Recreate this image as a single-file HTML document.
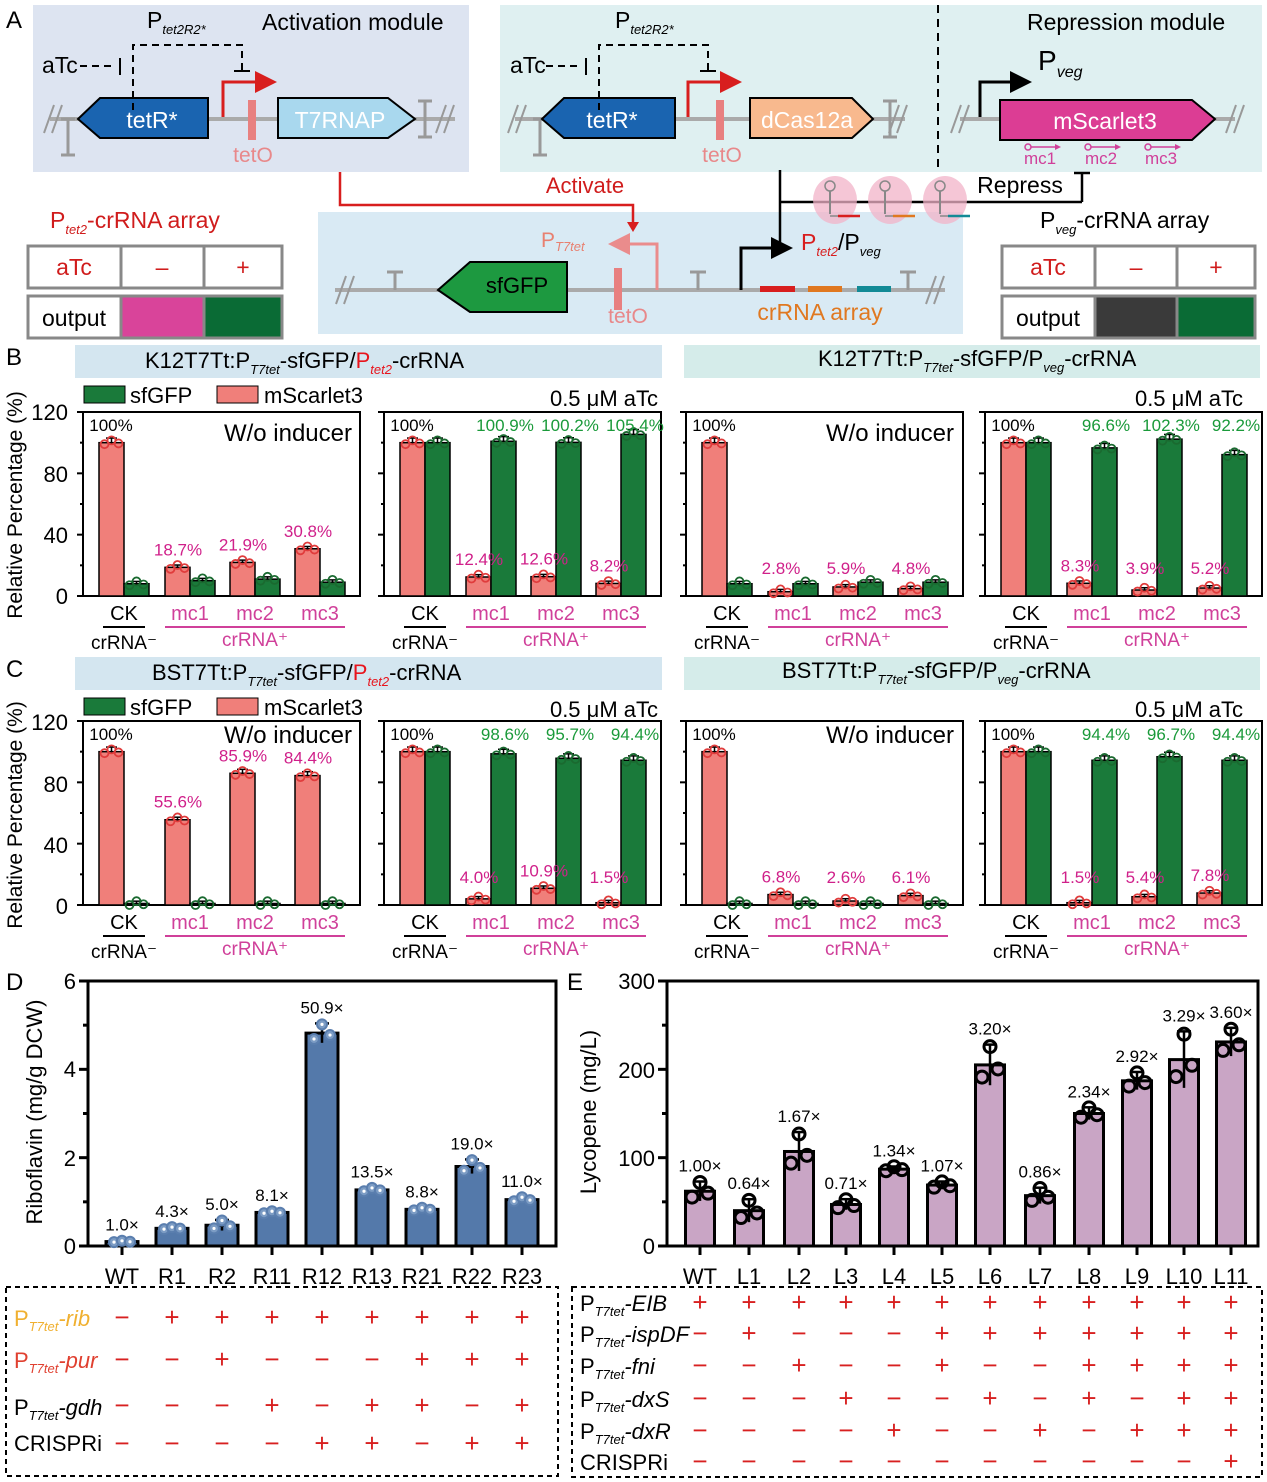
<!DOCTYPE html>
<html><head><meta charset="utf-8"><style>
html,body{margin:0;padding:0;background:#fff}
svg{display:block;font-family:"Liberation Sans",Arial,sans-serif}
</style></head><body>
<svg id="g" width="1267" height="1482" viewBox="0 0 1267 1482" xmlns="http://www.w3.org/2000/svg">
<!-- Panel A -->
<rect x="33" y="5" width="436" height="167" fill="#dde4f1"/>
<rect x="500" y="5" width="762" height="167" fill="#dff0f1"/>
<rect x="318" y="212" width="645" height="122" fill="#d9eaf4"/>
<text x="6" y="28" font-size="24">A</text>
<text x="262" y="30" font-size="23">Activation module</text>
<text x="1027" y="30" font-size="23">Repression module</text>
<text x="147" y="28" font-size="23">P<tspan font-size="13" font-style="italic" dy="6">tet2R2*</tspan></text>
<text x="615" y="28" font-size="23">P<tspan font-size="13" font-style="italic" dy="6">tet2R2*</tspan></text>
<line x1="938" y1="5" x2="938" y2="168" stroke="#000" stroke-width="2" stroke-dasharray="8,6"/>
<g id="dna"></g>
<text x="42" y="73" font-size="23">aTc</text>
<text x="510" y="73" font-size="23">aTc</text>
<text x="152" y="128" font-size="23" fill="#fff" text-anchor="middle">tetR*</text>
<text x="612" y="128" font-size="23" fill="#fff" text-anchor="middle">tetR*</text>
<text x="340" y="128" font-size="23" fill="#fff" text-anchor="middle">T7RNAP</text>
<text x="807" y="128" font-size="23" fill="#fff" text-anchor="middle">dCas12a</text>
<text x="1105" y="129" font-size="23" fill="#fff" text-anchor="middle">mScarlet3</text>
<text x="253" y="162" font-size="21" fill="#e8888a" text-anchor="middle">tetO</text>
<text x="722" y="162" font-size="21" fill="#e8888a" text-anchor="middle">tetO</text>
<text x="1038" y="70" font-size="28">P<tspan font-size="16" font-style="italic" dy="7">veg</tspan></text>
<text x="1040" y="164" font-size="17" fill="#d0409a" text-anchor="middle">mc1</text>
<text x="1101" y="164" font-size="17" fill="#d0409a" text-anchor="middle">mc2</text>
<text x="1161" y="164" font-size="17" fill="#d0409a" text-anchor="middle">mc3</text>
<text x="585" y="193" font-size="22" fill="#d01c1c" text-anchor="middle">Activate</text>
<text x="1020" y="193" font-size="23" text-anchor="middle">Repress</text>
<text x="517" y="293" font-size="22" text-anchor="middle">sfGFP</text>
<text x="541" y="247" font-size="21" fill="#e88070">P<tspan font-size="13" font-style="italic" dy="4">T7tet</tspan></text>
<text x="628" y="323" font-size="21" fill="#e8888a" text-anchor="middle">tetO</text>
<text x="801" y="250" font-size="23" fill="#d81e1e">P<tspan font-size="13" font-style="italic" dy="6">tet2</tspan><tspan dy="-6" fill="#000">/P</tspan><tspan font-size="13" font-style="italic" dy="6" fill="#000">veg</tspan></text>
<text x="820" y="320" font-size="23" fill="#e07820" text-anchor="middle">crRNA array</text>
<text x="50" y="228" font-size="23" fill="#d01c1c">P<tspan font-size="13" font-style="italic" dy="6">tet2</tspan><tspan dy="-6">-crRNA array</tspan></text>
<text x="1040" y="228" font-size="23">P<tspan font-size="13" font-style="italic" dy="6">veg</tspan><tspan dy="-6">-crRNA array</tspan></text>
<g fill="#fff" stroke="#888" stroke-width="3">
<rect x="28" y="246" width="93" height="42"/><rect x="121" y="246" width="83" height="42"/><rect x="204" y="246" width="78" height="42"/>
<rect x="28" y="296" width="93" height="42"/><rect x="121" y="296" width="83" height="42" fill="#d9449a"/><rect x="204" y="296" width="78" height="42" fill="#0a6b35"/>
<rect x="1002" y="246" width="93" height="42"/><rect x="1095" y="246" width="82" height="42"/><rect x="1177" y="246" width="78" height="42"/>
<rect x="1002" y="296" width="93" height="42"/><rect x="1095" y="296" width="82" height="42" fill="#3a3a3a"/><rect x="1177" y="296" width="78" height="42" fill="#0a6b35"/>
</g>
<g font-size="23" text-anchor="middle" fill="#d01c1c">
<text x="74" y="275">aTc</text><text x="162" y="275">–</text><text x="243" y="275">+</text>
<text x="1048" y="275">aTc</text><text x="1136" y="275">–</text><text x="1216" y="275">+</text>
</g>
<text x="74" y="326" font-size="23" text-anchor="middle">output</text>
<text x="1048" y="326" font-size="23" text-anchor="middle">output</text>

<!-- Panel B/C headers -->
<text x="6" y="365" font-size="24">B</text>
<text x="6" y="677" font-size="24">C</text>
<rect x="75" y="345" width="587" height="33" fill="#d4e6f0"/>
<rect x="684" y="345" width="576" height="33" fill="#d5ecea"/>
<rect x="75" y="657" width="587" height="33" fill="#d4e6f0"/>
<rect x="684" y="657" width="576" height="33" fill="#d5ecea"/>
<text x="145" y="368" font-size="22">K12T7Tt:P<tspan font-size="13" font-style="italic" dy="6">T7tet</tspan><tspan dy="-6">-sfGFP/</tspan><tspan fill="#e8141c">P</tspan><tspan font-size="13" font-style="italic" dy="6" fill="#e8141c">tet2</tspan><tspan dy="-6">-crRNA</tspan></text>
<text x="818" y="366" font-size="22">K12T7Tt:P<tspan font-size="13" font-style="italic" dy="6">T7tet</tspan><tspan dy="-6">-sfGFP/P</tspan><tspan font-size="13" font-style="italic" dy="6">veg</tspan><tspan dy="-6">-crRNA</tspan></text>
<text x="152" y="680" font-size="22">BST7Tt:P<tspan font-size="13" font-style="italic" dy="6">T7tet</tspan><tspan dy="-6">-sfGFP/</tspan><tspan fill="#e8141c">P</tspan><tspan font-size="13" font-style="italic" dy="6" fill="#e8141c">tet2</tspan><tspan dy="-6">-crRNA</tspan></text>
<text x="782" y="678" font-size="22">BST7Tt:P<tspan font-size="13" font-style="italic" dy="6">T7tet</tspan><tspan dy="-6">-sfGFP/P</tspan><tspan font-size="13" font-style="italic" dy="6">veg</tspan><tspan dy="-6">-crRNA</tspan></text>
<rect x="84" y="386" width="41" height="17" fill="#1a7a3a" stroke="#000"/><text x="130" y="403" font-size="22">sfGFP</text>
<rect x="217" y="386" width="41" height="17" fill="#f07f7a" stroke="#000"/><text x="264" y="403" font-size="22">mScarlet3</text>
<rect x="84" y="698" width="41" height="17" fill="#1a7a3a" stroke="#000"/><text x="130" y="715" font-size="22">sfGFP</text>
<rect x="217" y="698" width="41" height="17" fill="#f07f7a" stroke="#000"/><text x="264" y="715" font-size="22">mScarlet3</text>
<g font-size="22" text-anchor="end">
<text x="658" y="406">0.5 μM aTc</text><text x="1243" y="406">0.5 μM aTc</text>
<text x="658" y="717">0.5 μM aTc</text><text x="1243" y="717">0.5 μM aTc</text>
<text x="352" y="441" font-size="24">W/o inducer</text><text x="954" y="441" font-size="24">W/o inducer</text>
<text x="352" y="743" font-size="24">W/o inducer</text><text x="954" y="743" font-size="24">W/o inducer</text>
<text x="68" y="420">120</text><text x="68" y="482">80</text><text x="68" y="543">40</text><text x="68" y="604">0</text>
<text x="68" y="730">120</text><text x="68" y="792">80</text><text x="68" y="853">40</text><text x="68" y="914">0</text>
</g>
<text transform="translate(22,505) rotate(-90)" font-size="21" text-anchor="middle">Relative Percentage (%)</text>
<text transform="translate(22,815) rotate(-90)" font-size="21" text-anchor="middle">Relative Percentage (%)</text>

<!-- D/E -->
<text x="6" y="990" font-size="24">D</text>
<text x="567" y="990" font-size="24">E</text>
<g font-size="22" text-anchor="end">
<text x="76" y="989">6</text><text x="76" y="1077">4</text><text x="76" y="1166">2</text><text x="76" y="1254">0</text>
<text x="655" y="989">300</text><text x="655" y="1078">200</text><text x="655" y="1166">100</text><text x="655" y="1254">0</text>
</g>
<text transform="translate(42,1112) rotate(-90)" font-size="22" text-anchor="middle">Riboflavin (mg/g DCW)</text>
<text transform="translate(596,1112) rotate(-90)" font-size="22" text-anchor="middle">Lycopene (mg/L)</text>
<g font-size="22" text-anchor="middle">
<text x="122" y="1284">WT</text><text x="172" y="1284">R1</text><text x="222" y="1284">R2</text><text x="272" y="1284">R11</text><text x="322" y="1284">R12</text><text x="372" y="1284">R13</text><text x="422" y="1284">R21</text><text x="472" y="1284">R22</text><text x="522" y="1284">R23</text>
<text x="700" y="1284">WT</text><text x="749" y="1284">L1</text><text x="799" y="1284">L2</text><text x="846" y="1284">L3</text><text x="894" y="1284">L4</text><text x="942" y="1284">L5</text><text x="990" y="1284">L6</text><text x="1040" y="1284">L7</text><text x="1089" y="1284">L8</text><text x="1137" y="1284">L9</text><text x="1184" y="1284">L10</text><text x="1231" y="1284">L11</text>
</g>
<rect x="6" y="1287" width="552" height="189" fill="none" stroke="#000" stroke-width="2" stroke-dasharray="5,4"/>
<rect x="572" y="1287" width="690" height="190" fill="none" stroke="#000" stroke-width="2" stroke-dasharray="5,4"/>
<g font-size="22" font-style="italic">
<text x="14" y="1326" fill="#f0b030"><tspan font-style="normal">P</tspan><tspan font-size="13" dy="5">T7tet</tspan><tspan dy="-5">-rib</tspan></text>
<text x="14" y="1368" fill="#e04030"><tspan font-style="normal">P</tspan><tspan font-size="13" dy="5">T7tet</tspan><tspan dy="-5">-pur</tspan></text>
<text x="14" y="1415"><tspan font-style="normal">P</tspan><tspan font-size="13" dy="5">T7tet</tspan><tspan dy="-5">-gdh</tspan></text>
<text x="14" y="1451" font-style="normal">CRISPRi</text>
<text x="580" y="1311"><tspan font-style="normal">P</tspan><tspan font-size="13" dy="5">T7tet</tspan><tspan dy="-5">-EIB</tspan></text>
<text x="580" y="1342"><tspan font-style="normal">P</tspan><tspan font-size="13" dy="5">T7tet</tspan><tspan dy="-5">-ispDF</tspan></text>
<text x="580" y="1374"><tspan font-style="normal">P</tspan><tspan font-size="13" dy="5">T7tet</tspan><tspan dy="-5">-fni</tspan></text>
<text x="580" y="1407"><tspan font-style="normal">P</tspan><tspan font-size="13" dy="5">T7tet</tspan><tspan dy="-5">-dxS</tspan></text>
<text x="580" y="1439"><tspan font-style="normal">P</tspan><tspan font-size="13" dy="5">T7tet</tspan><tspan dy="-5">-dxR</tspan></text>
<text x="580" y="1470" font-style="normal">CRISPRi</text>
</g>
</svg>
<script>
const S='http://www.w3.org/2000/svg',svg=document.getElementById('g');
let par=document.getElementById('dna');
function el(t,a,txt){const e=document.createElementNS(S,t);for(const k in a)e.setAttribute(k,a[k]);if(txt!=null)e.textContent=txt;par.appendChild(e);return e;}
function line(x1,y1,x2,y2,c,w,extra){const a={x1,y1,x2,y2,stroke:c,'stroke-width':w};if(extra)Object.assign(a,extra);return el('line',a);}
function poly(p,f,s){return el('polygon',{points:p,fill:f,stroke:s||'#000','stroke-width':2});}
function dnaLine(x1,x2,y){line(x1,y,x2,y,'#aaa',4);}
function slash(x,y){line(x-4,y+14,x+6,y-14,'#999',2);line(x+4,y+14,x+14,y-14,'#999',2);}
function term(x,y,up){ if(up){line(x,y,x,y-18,'#999',3);line(x-8,y-18,x+8,y-18,'#999',3);} else {line(x,y-18,x,y+18,'#999',3);line(x-7,y-18,x+7,y-18,'#999',3);line(x-7,y+18,x+7,y+18,'#999',3);} }
dnaLine(50,455,119);slash(48,119);slash(440,119);term(68,137,false);term(425,119,false);
dnaLine(515,905,119);slash(512,119);slash(893,119);term(540,137,false);term(890,119,false);
dnaLine(960,1235,119);slash(955,119);slash(1230,119);
poly('78,119 100,98 208,98 208,138 100,138','#1a64b0');
poly('542,119 564,98 675,98 675,138 564,138','#1a64b0');
poly('278,98 388,98 415,119 388,138 278,138','#a9d8ee');
poly('750,98 852,98 873,119 852,138 750,138','#f8b98e');
poly('1000,100 1192,100 1215,119 1192,140 1000,140','#dc3d94');
el('rect',{x:248,y:100,width:8,height:40,fill:'#e88080'});
el('rect',{x:716,y:100,width:8,height:40,fill:'#e88080'});
function prom(x,y,top,len,c,dir){const e=x+dir*len;el('path',{d:`M${x},${y} V${top} H${e}`,fill:'none',stroke:c,'stroke-width':3});el('polygon',{points:`${e},${top-11} ${e+dir*22},${top} ${e},${top+11}`,fill:c});}
prom(223,117,82,32,'#d81e1e',1);prom(688,117,82,32,'#d81e1e',1);prom(980,117,82,30,'#000',1);
for(const o of [0,466]){line(80+o,66,116+o,66,'#000',2,{'stroke-dasharray':'7,5'});line(120+o,58,120+o,75,'#000',2);
el('path',{d:`M${133+o},110 V45 H${242+o} V70`,fill:'none',stroke:'#000','stroke-width':2,'stroke-dasharray':'7,5'});line(234+o,71,250+o,71,'#000',2);}
for(const x of [1028,1088,1148]){el('circle',{cx:x,cy:147,r:3,fill:'none',stroke:'#d0409a','stroke-width':1.5});line(x+3,147,x+30,147,'#d0409a',1.5);el('polygon',{points:`${x+27},144 ${x+33},147 ${x+27},150`,fill:'#d0409a'});}
el('path',{d:'M340,172 V205 H633 V224',fill:'none',stroke:'#d81e1e','stroke-width':2.5});el('polygon',{points:'627,222 633,232 639,222',fill:'#d81e1e'});
line(780,170,780,242,'#000',2.5);line(780,202,1082,202,'#000',2.5);line(1082,202,1082,173,'#000',2.5);line(1074,173,1090,173,'#000',2.5);
for(const [x,c] of [[835,'#d81e1e'],[890,'#e07820'],[945,'#128a96']]){el('ellipse',{cx:x,cy:200,rx:22,ry:24,fill:'#f2b3c8',opacity:0.75});el('circle',{cx:x-5,cy:186,r:5,fill:'none',stroke:'#888','stroke-width':1.5});line(x-5,191,x-5,214,'#888',2);line(x-5,216,x+3,216,'#888',1.5);line(x+3,216,x+25,216,c,2.5);}
dnaLine(335,945,290);slash(340,290);slash(930,290);term(395,290,true);term(698,290,true);term(908,290,true);
poly('438,290 470,262 567,262 567,312 470,312','#1d9940');
el('rect',{x:614,y:268,width:8,height:42,fill:'#e88080'});
prom(657,290,244,27,'#ea8c8c',-1);prom(741,290,248,30,'#000',1);
el('rect',{x:760,y:286,width:35,height:6,fill:'#d81e1e'});el('rect',{x:808,y:286,width:34,height:6,fill:'#e07820'});el('rect',{x:857,y:286,width:34,height:6,fill:'#128a96'});
par=svg;

const MS='#f07f7a',GF='#1a7a3a',OFF=[41,107,172,237];
function chart(x0,top,bot,ms,gf,msl,gfl){
 const sc=(bot-top)/120,Y=v=>bot-v*sc;
 el('rect',{x:x0,y:top,width:277,height:bot-top,fill:'none',stroke:'#000','stroke-width':2});
 for(let v=0;v<=120;v+=20){line(x0-(v%40?3:6),Y(v),x0,Y(v),'#000',2);}
 for(let i=0;i<4;i++){const c=x0+OFF[i];
  for(const [v,x,f,s] of [[ms[i],c-25,MS,'#e03c3c'],[gf[i],c,GF,'#1a6a30']]){
   el('rect',{x:x,y:Y(v),width:25,height:v*sc,fill:f,stroke:'#000','stroke-width':1.5});
   const sd=Math.max(1.5,v*0.03);line(x+12.5,Y(v),x+12.5,Y(v+sd),'#000',1.5);line(x+7,Y(v+sd),x+18,Y(v+sd),'#000',1.5);
   [[-7,-1],[0,1.5],[7,-0.5]].forEach(([dx,dv])=>el('circle',{cx:x+12.5+dx,cy:Y(v+dv),r:4,fill:'none',stroke:s,'stroke-width':1.8}));
  }
  if(i>0)el('text',{x:c-12,y:Math.min(Y(ms[i])-12,bot-22),'font-size':17,fill:'#d0208a','text-anchor':'middle'},msl[i-1]);
  if(gfl&&i>0)el('text',{x:c+14,y:top+19,'font-size':17,fill:'#1a9a3a','text-anchor':'middle'},gfl[i-1]);
 }
 el('text',{x:x0+28,y:top+19,'font-size':17,'text-anchor':'middle'},'100%');
 const ly=bot+24;
 el('text',{x:x0+OFF[0],y:ly,'font-size':20,'text-anchor':'middle'},'CK');line(x0+20,ly+7,x0+62,ly+7,'#000',2);
 el('text',{x:x0+OFF[0],y:ly+29,'font-size':19,'text-anchor':'middle'},'crRNA⁻');
 ['mc1','mc2','mc3'].forEach((t,k)=>el('text',{x:x0+OFF[k+1],y:ly,'font-size':20,fill:'#d0409a','text-anchor':'middle'},t));
 line(x0+82,ly+7,x0+262,ly+7,'#d0409a',2);
 el('text',{x:x0+172,y:ly+26,'font-size':19,fill:'#d0409a','text-anchor':'middle'},'crRNA⁺');
}
chart(83,412,596,[100,18.7,21.9,30.8],[8,10,11,9],['18.7%','21.9%','30.8%']);
chart(384,412,596,[100,12.4,12.6,8.2],[100,100.9,100.2,105.4],['12.4%','12.6%','8.2%'],['100.9%','100.2%','105.4%']);
chart(686,412,596,[100,2.8,5.9,4.8],[8,8,9,9],['2.8%','5.9%','4.8%']);
chart(985,412,596,[100,8.3,3.9,5.2],[100,96.6,102.3,92.2],['8.3%','3.9%','5.2%'],['96.6%','102.3%','92.2%']);
chart(83,721,905,[100,55.6,85.9,84.4],[1,1,1,1],['55.6%','85.9%','84.4%']);
chart(384,721,905,[100,4.0,10.9,1.5],[100,98.6,95.7,94.4],['4.0%','10.9%','1.5%'],['98.6%','95.7%','94.4%']);
chart(686,721,905,[100,6.8,2.6,6.1],[1,1,1,1],['6.8%','2.6%','6.1%']);
chart(985,721,905,[100,1.5,5.4,7.8],[100,94.4,96.7,94.4],['1.5%','5.4%','7.8%'],['94.4%','96.7%','94.4%']);

function bars(L,R,top,bot,max,xs,vals,sds,labs,w,fill,dot,ntick){
 const Y=v=>bot-v*(bot-top)/max;
 el('rect',{x:L,y:top,width:R-L,height:bot-top,fill:'none',stroke:'#000','stroke-width':3});
 for(let i=0;i<=ntick*2;i++){const v=max*i/(ntick*2);line(L-(i%2?5:9),Y(v),L,Y(v),'#000',3);}
 xs.forEach((x,i)=>{const v=vals[i],sd=sds[i];
  line(x,bot,x,bot+9,'#000',3);
  el('rect',{x:x-w/2,y:Y(v),width:w,height:bot-Y(v),fill:fill,stroke:'#000','stroke-width':3});
  line(x,Y(v-sd),x,Y(v+sd),'#000',2.5);line(x-7,Y(v+sd),x+7,Y(v+sd),'#000',2.5);
  [[-8,-0.6],[0,0.9],[8,-0.2]].forEach(([dx,k])=>dot(x+dx,Y(v+k*sd)));
  el('text',{x:x,y:Y(v+sd)-10,'font-size':17,'text-anchor':'middle'},labs[i]);
 });
}
bars(88,556,981,1246,6,[122,172,222,272,322,372,422,472,522],[0.1,0.4,0.47,0.76,4.82,1.27,0.83,1.8,1.05],[0.02,0.03,0.12,0.03,0.22,0.05,0.04,0.16,0.06],
 ['1.0×','4.3×','5.0×','8.1×','50.9×','13.5×','8.8×','19.0×','11.0×'],32,'#5479aa',
 (x,y)=>{el('circle',{cx:x,cy:y,r:5,fill:'#7c9cc4',stroke:'#5a7eae','stroke-width':2});el('circle',{cx:x,cy:y,r:1.6,fill:'#fff'});},3);
bars(667,1258,981,1246,300,[700,749,799,846,894,942,990,1040,1089,1137,1184,1231],[62,40,107,47,87,69,205,57,150,187,211,231],[11,13,22,6,3,4,23,9,7,10,32,16],
 ['1.00×','0.64×','1.67×','0.71×','1.34×','1.07×','3.20×','0.86×','2.34×','2.92×','3.29×','3.60×'],29,'#c9a5c5',
 (x,y)=>el('circle',{cx:x,cy:y,r:6,fill:'none',stroke:'#000','stroke-width':3}),3);
function signs(xs,rows,ys){rows.forEach((r,j)=>[...r].forEach((ch,i)=>el('text',{x:xs[i],y:ys[j],'font-size':26,fill:'#d82020','text-anchor':'middle'},ch=='+'?'+':'−')));}
signs([122,172,222,272,322,372,422,472,522],['-++++++++','--+---+++','---+-++-+','----++-++'],[1326,1368,1414,1452]);
signs([700,749,799,846,894,942,990,1040,1089,1137,1184,1231],['++++++++++++','-+---+++++++','--+--+--++++','---+--+-+-++','----+--+-+++','-----------+'],[1311,1342,1374,1407,1439,1470]);
</script>
</body></html>
